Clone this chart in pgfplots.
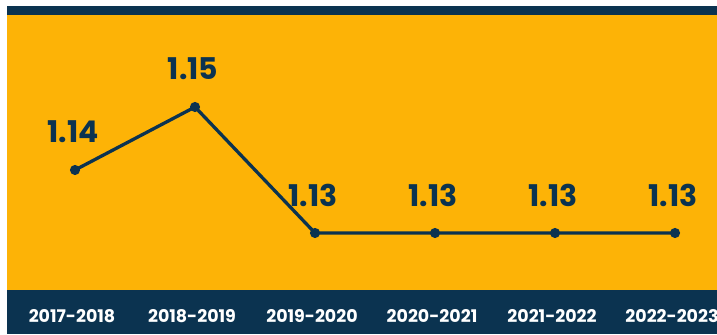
\documentclass[border=0pt]{standalone}
\usepackage{pgfplots}
\pgfplotsset{compat=1.18}
\usepackage{fontspec}
\setmainfont{Poppins}
\definecolor{bgorange}{HTML}{FDB306}
\definecolor{navy}{HTML}{0B3350}
\begin{document}
\begin{tikzpicture}[x=1bp,y=1bp]
\useasboundingbox (0,0) rectangle (717,334);
\fill[white] (0,0) rectangle (717,334);
\fill[navy] (7,319) rectangle (717,328);
\fill[navy] (7,0) rectangle (717,44);
\begin{axis}[
  at={(7bp,44bp)}, anchor=south west,
  scale only axis, width=710bp, height=275bp,
  xmin=-0.5667, xmax=5.35, ymin=1.12095, ymax=1.164603,
  axis background/.style={fill=bgorange},
  axis line style={draw=none},
  ytick=\empty,
  xtick={0,1,2,3,4,5},
  xticklabels={2017-2018,2018-2019,2019-2020,2020-2021,2021-2022,2022-2023},
  major tick length=0pt,
  xticklabel style={anchor=center, yshift=-26bp, xshift=-3bp, text=white, font=\fontsize{17.5}{20}\selectfont\bfseries},
  clip=false,
  nodes near coords,
  point meta=explicit symbolic,
  nodes near coords style={anchor=center, yshift=38bp, xshift=-2bp, text=navy, font=\fontsize{30}{34}\selectfont\bfseries},
]
\addplot[navy, line width=3.3bp, mark=*, mark size=3.3bp, mark options={fill=navy, draw=navy}]
  table[meta=lab] {
x y lab
0 1.14 1.14
1 1.15 1.15
2 1.13 1.13
3 1.13 1.13
4 1.13 1.13
5 1.13 1.13
};
\end{axis}
\end{tikzpicture}
\end{document}
